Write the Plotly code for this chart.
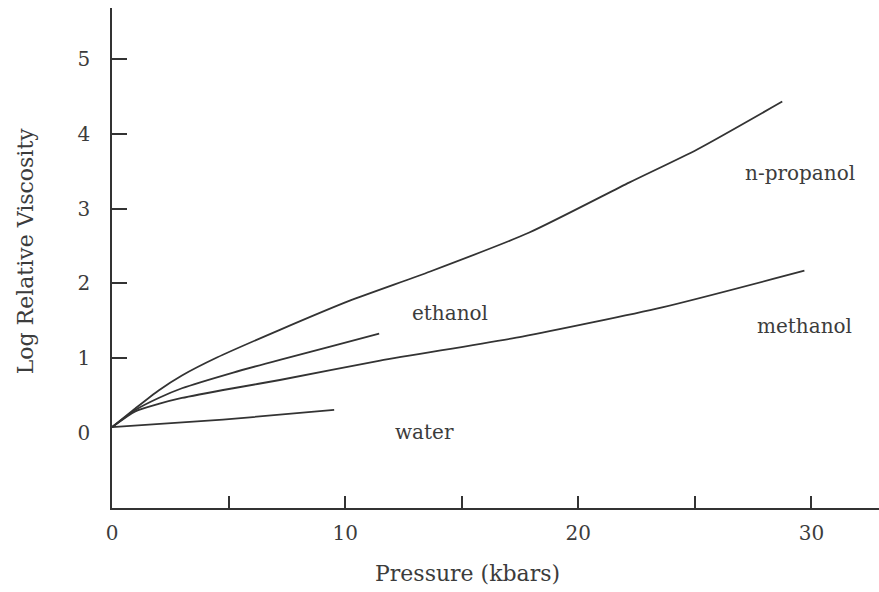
import plotly.graph_objects as go

# Data (pressure in kbar, log relative viscosity)
propanol_x = [0, 1, 2, 3, 4.5, 7.2, 10.2, 13.65, 17.9, 22.2, 25.1, 28.75]
propanol_y = [0.08, 0.33, 0.57, 0.77, 1.01, 1.38, 1.77, 2.16, 2.68, 3.35, 3.79, 4.43]

ethanol_x = [0, 1, 2, 3, 5.2, 7.2, 9.4, 11.46]
ethanol_y = [0.08, 0.31, 0.47, 0.6, 0.81, 0.98, 1.16, 1.33]

methanol_x = [0, 1, 2, 3, 5.2, 7.2, 11.5, 17.6, 23.6, 29.7]
methanol_y = [0.08, 0.29, 0.39, 0.47, 0.6, 0.71, 0.97, 1.29, 1.68, 2.17]

water_x = [0, 4.76, 9.53]
water_y = [0.08, 0.18, 0.31]

series = [
    ("n-propanol", propanol_x, propanol_y),
    ("ethanol", ethanol_x, ethanol_y),
    ("methanol", methanol_x, methanol_y),
    ("water", water_x, water_y),
]

# label positions (data coords)
label_names = ["n-propanol", "ethanol", "methanol", "water"]
label_x = [29.5, 14.5, 29.7, 13.4]
label_y = [3.48, 1.6, 1.43, 0.01]

x_tick_vals = [0, 10, 20, 30]
x_tick_text = ["0", "10", "20", "30"]
x_minor_vals = [5, 10, 15, 20, 25, 30]
y_tick_vals = [0, 1, 2, 3, 4, 5]
y_tick_text = ["0", "1", "2", "3", "4", "5"]
y_minor_vals = [1, 2, 3, 4, 5]

INK = "#333333"
TXT = "#3c3c3c"
FONT = "DejaVu Serif"

fig = go.Figure()
for name, xs, ys in series:
    fig.add_trace(go.Scatter(x=xs, y=ys, mode="lines", name=name,
                             line=dict(color=INK, width=1.8, shape="spline", smoothing=0.6),
                             showlegend=False, hoverinfo="skip"))

for n, lx, ly in zip(label_names, label_x, label_y):
    fig.add_annotation(x=lx, y=ly, text=n, showarrow=False,
                       font=dict(family=FONT, size=20, color=TXT))

fig.add_annotation(xref="paper", yref="paper", x=0.464, y=-0.13, text="Pressure (kbars)",
                   showarrow=False, font=dict(family=FONT, size=22, color=TXT), yanchor="middle")
fig.add_annotation(xref="paper", yref="paper", x=-0.113, y=0.514, text="Log Relative Viscosity",
                   showarrow=False, textangle=-90, font=dict(family=FONT, size=22, color=TXT),
                   xanchor="center", yanchor="middle")

fig.update_layout(
    width=879, height=592,
    margin=dict(l=112, r=0, t=8, b=84),
    paper_bgcolor="white", plot_bgcolor="white",
    font=dict(family=FONT, size=20, color=TXT),
    xaxis=dict(range=[0, 32.9], showgrid=False, zeroline=False, showline=True,
               linecolor=INK, linewidth=1.6,
               tickmode="array", tickvals=x_tick_vals, ticktext=x_tick_text,
               ticks="", ticklabelstandoff=6,
               minor=dict(tickmode="array", tickvals=x_minor_vals, ticks="inside",
                          ticklen=12, tickwidth=1.6, tickcolor=INK, showgrid=False)),
    yaxis=dict(range=[-1, 5.68], showgrid=False, zeroline=False, showline=True,
               linecolor=INK, linewidth=1.6,
               tickmode="array", tickvals=y_tick_vals, ticktext=y_tick_text,
               ticks="", ticklabelstandoff=16,
               minor=dict(tickmode="array", tickvals=y_minor_vals, ticks="inside",
                          ticklen=15, tickwidth=1.6, tickcolor=INK, showgrid=False)),
)

fig.write_html("out.html")
